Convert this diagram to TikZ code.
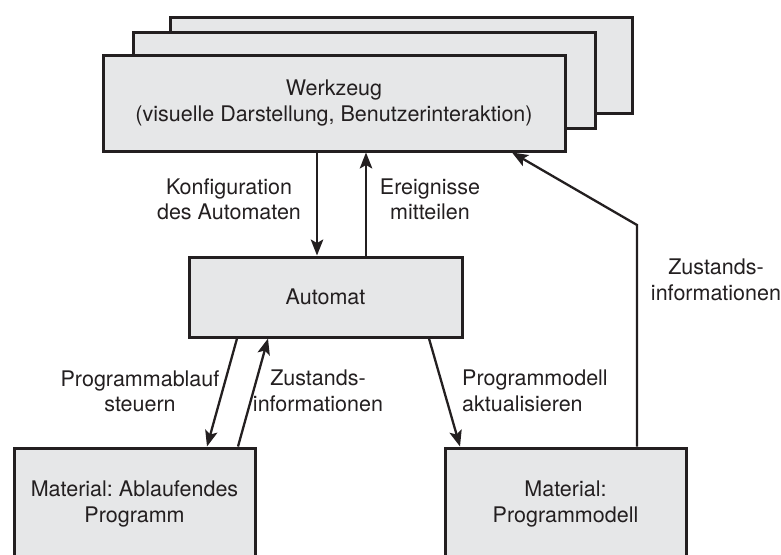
\documentclass[tikz,border=0pt]{standalone}
\usepackage{fontspec}
\setmainfont{TeX Gyre Heros}
\usetikzlibrary{arrows.meta}
\definecolor{boxfill}{HTML}{E6E7E8}
\definecolor{ink}{HTML}{231F20}
\frenchspacing
\begin{document}
\begin{tikzpicture}[x=1pt,y=-1pt,
  font=\fontsize{21.5}{25.5}\selectfont, text=ink,
  box/.style={draw=ink, line width=3pt, fill=boxfill, align=center,
    inner sep=0pt, minimum width=#1},
  box/.default=462pt,
  arr/.style={draw=ink, line width=2.3pt,
    -{Stealth[length=16pt,width=12.5pt,inset=3.5pt]}},
  lbl/.style={align=center, inner sep=0pt}]
\clip (0,0) rectangle (781,554);

% stacked tool windows
\node[box, minimum height=96pt] (back)  at (401,65)  {};
\node[box, minimum height=96pt] (mid)   at (364,80)  {};
\node[box, minimum height=96pt] (front) at (334,103)
  {Werkzeug\\(visuelle Darstellung, Benutzerinteraktion)};

% automaton and materials
\node[box=273pt, minimum height=80pt]  (auto) at (325.5,297) {Automat};
\node[box=241pt, minimum height=112pt] (run)  at (134.5,504)
  {Material: Ablaufendes\\Programm};
\node[box=241pt, minimum height=112pt] (model) at (565.5,504)
  {Material:\\Programmodell};

% tool <-> automaton
\draw[arr] ([xshift=-17pt]front.south) -- ([xshift=-8.5pt]auto.north);
\draw[arr] ([xshift=40.5pt]auto.north) -- ([xshift=32pt]front.south);
\node[lbl] (konf) at (229,199.5) {Konfiguration\\des Automaten};
\node[lbl] (ereig) at (430,199.5) {Ereignisse\\mitteilen};

% automaton <-> running program
\draw[arr] ([xshift=-88.5pt]auto.south) -- ([xshift=72.5pt]run.north);
\draw[arr] ([xshift=103.5pt]run.north) -- ([xshift=-57.5pt]auto.south);
\node[lbl] (steuern) at (140,391.5) {Programmablauf\\steuern};
\node[lbl] (zust1) at (318,391) {Zustands-\\informationen};

% automaton -> program model
\draw[arr] ([xshift=103.5pt]auto.south) -- ([xshift=-105.5pt]model.north);
\node[lbl, anchor=west, align=left] (aktual) at (462,391)
  {Programmodell\\aktualisieren};

% program model -> tool
\coordinate (bend) at (637,225);
\draw[arr] ([xshift=71.5pt]model.north) -- (bend) -- ([xshift=178pt]front.south);
\node[lbl] (zust2) at (716,280) {Zustands-\\informationen};
\end{tikzpicture}
\end{document}
